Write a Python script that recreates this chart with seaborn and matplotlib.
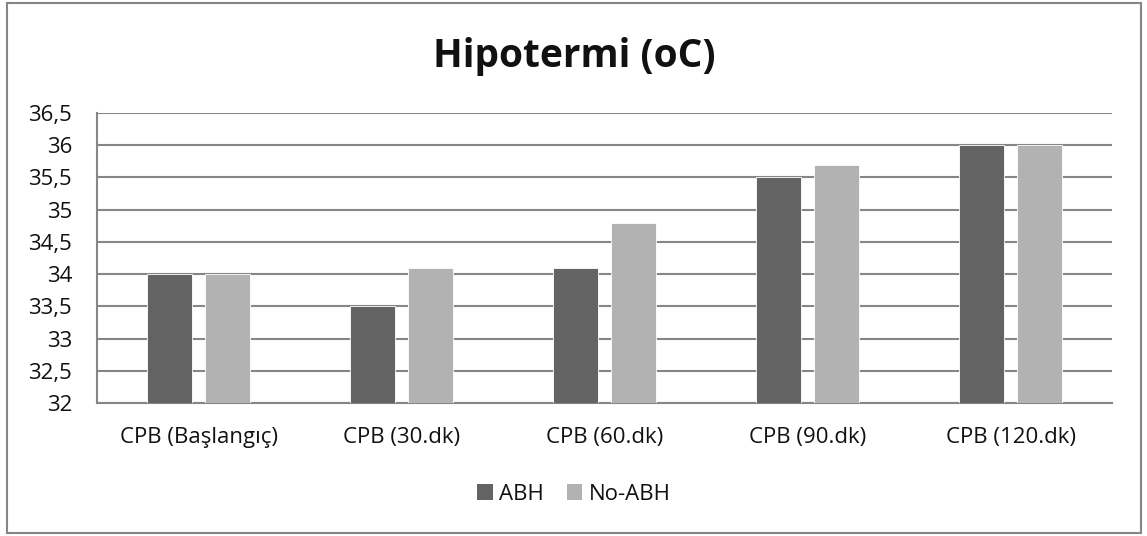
import matplotlib
matplotlib.use("Agg")
import matplotlib.pyplot as plt
import matplotlib.patches as mpatches
import seaborn as sns
import pandas as pd

# data
categories = ["CPB (Başlangıç)", "CPB (30.dk)", "CPB (60.dk)", "CPB (90.dk)", "CPB (120.dk)"]
abh = [34.0, 33.5, 34.1, 35.5, 36.0]
no_abh = [34.0, 34.1, 34.8, 35.7, 36.0]
series_names = ["ABH", "No-ABH"]
yticks = [32, 32.5, 33, 33.5, 34, 34.5, 35, 35.5, 36, 36.5]

df = pd.DataFrame({
    "kategori": categories * 2,
    "deger": abh + no_abh,
    "grup": [series_names[0]] * len(abh) + [series_names[1]] * len(no_abh),
})

sns.set_theme(style="white")
plt.rcParams["font.family"] = ["Open Sans", "DejaVu Sans"]

colors = {"ABH": "#636363", "No-ABH": "#b2b2b2"}
grid_col = "#868686"
txt_col = "#111111"

fig = plt.figure(figsize=(11.47, 5.36), dpi=100)
ax = fig.add_axes([97 / 1147, 1 - 403 / 536, (1112 - 97) / 1147, (403 - 113) / 536])

sns.barplot(data=df, x="kategori", y="deger", hue="grup", palette=colors,
            width=0.571, gap=0.224, edgecolor="white", linewidth=0.6,
            legend=False, ax=ax, zorder=3)

ax.set_ylim(32, 36.5)
ax.set_xlim(-0.5, len(categories) - 0.5)
ax.set_yticks(yticks)
ax.set_yticklabels([f"{v:g}".replace(".", ",") for v in yticks], fontsize=16, color=txt_col)
ax.tick_params(axis="x", labelsize=16, colors=txt_col, pad=17, length=0)
ax.tick_params(axis="y", length=0, pad=18)
ax.set_xlabel("")
ax.set_ylabel("")

ax.yaxis.grid(True, color=grid_col, linewidth=1.5, zorder=0)
ax.set_axisbelow(True)
for side in ["top", "right"]:
    ax.spines[side].set_visible(False)
for side in ["left", "bottom"]:
    ax.spines[side].set_color(grid_col)
    ax.spines[side].set_linewidth(1.5)

fig.text(574 / 1147, 1 - 56 / 536, "Hipotermi (oC)", ha="center", va="center",
         fontsize=28, fontweight="bold", color=txt_col)

handles = [mpatches.Patch(facecolor=colors[n], edgecolor="none", label=n) for n in series_names]
fig.legend(handles=handles, loc="center", bbox_to_anchor=(574 / 1147, 1 - 494 / 536),
           ncol=2, frameon=False, fontsize=16, handlelength=0.7, handleheight=0.7,
           handletextpad=0.3, columnspacing=1.0, labelcolor=txt_col)

# outer chart frame
frame = mpatches.Rectangle((7 / 1147, 3 / 536), (1141 - 7) / 1147, (533 - 3) / 536,
                           transform=fig.transFigure, fill=False, edgecolor=grid_col,
                           linewidth=1.5)
fig.patches.append(frame)

fig.savefig("out.png", dpi=100, facecolor="white")
